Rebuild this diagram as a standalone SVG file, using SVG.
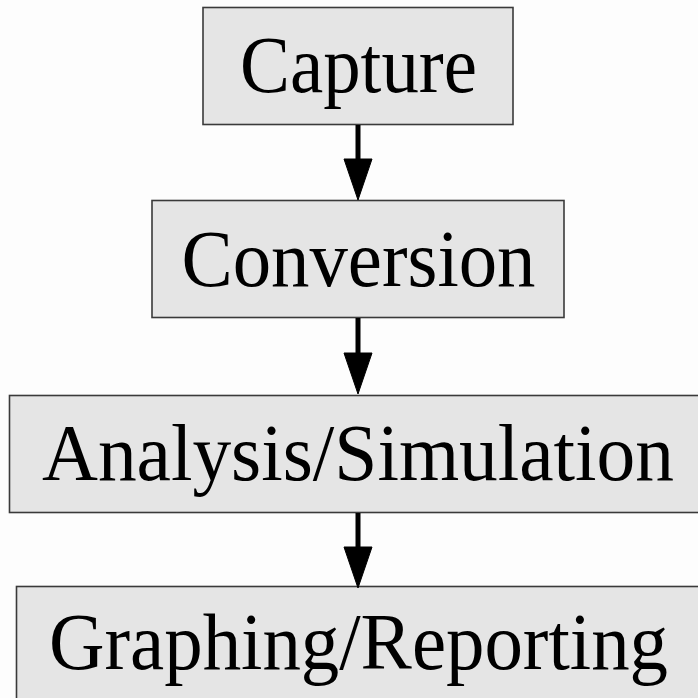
<svg xmlns="http://www.w3.org/2000/svg" width="698" height="698" viewBox="0 0 698 698">
<style>
.box{fill:#e5e5e5;stroke:#3a3a3a;stroke-width:1.6}
.lbl{font-family:"Liberation Serif","Times New Roman",serif;font-size:80px;fill:#000;text-anchor:middle}
.edge{stroke:#000;stroke-width:5;fill:none}
.head{fill:#000;stroke:#000;stroke-width:1}
</style>
<rect width="698" height="698" fill="#fdfdfd"/>
<g id="capture">
<rect class="box" x="203" y="7.5" width="310" height="117"/>
<text class="lbl" x="358.5" y="92" textLength="237" lengthAdjust="spacingAndGlyphs">Capture</text>
</g>
<g id="conversion">
<rect class="box" x="152" y="200.5" width="412" height="117"/>
<text class="lbl" x="358.5" y="286" textLength="354" lengthAdjust="spacingAndGlyphs">Conversion</text>
</g>
<g id="analysis">
<rect class="box" x="9.5" y="395.5" width="697" height="117"/>
<text class="lbl" x="358" y="480" textLength="632" lengthAdjust="spacingAndGlyphs">Analysis/Simulation</text>
</g>
<g id="graphing">
<rect class="box" x="16.5" y="586.5" width="683" height="117"/>
<text class="lbl" x="358.5" y="669" textLength="619" lengthAdjust="spacingAndGlyphs">Graphing/Reporting</text>
</g>
<g id="connectors">
<line class="edge" x1="358" y1="125" x2="358" y2="162"/>
<polygon class="head" points="344,159 372,159 358,200"/>
<line class="edge" x1="358" y1="318" x2="358" y2="356"/>
<polygon class="head" points="344,353 372,353 358,394"/>
<line class="edge" x1="358" y1="513" x2="358" y2="550"/>
<polygon class="head" points="344,547 372,547 358,588"/>
</g>
</svg>
